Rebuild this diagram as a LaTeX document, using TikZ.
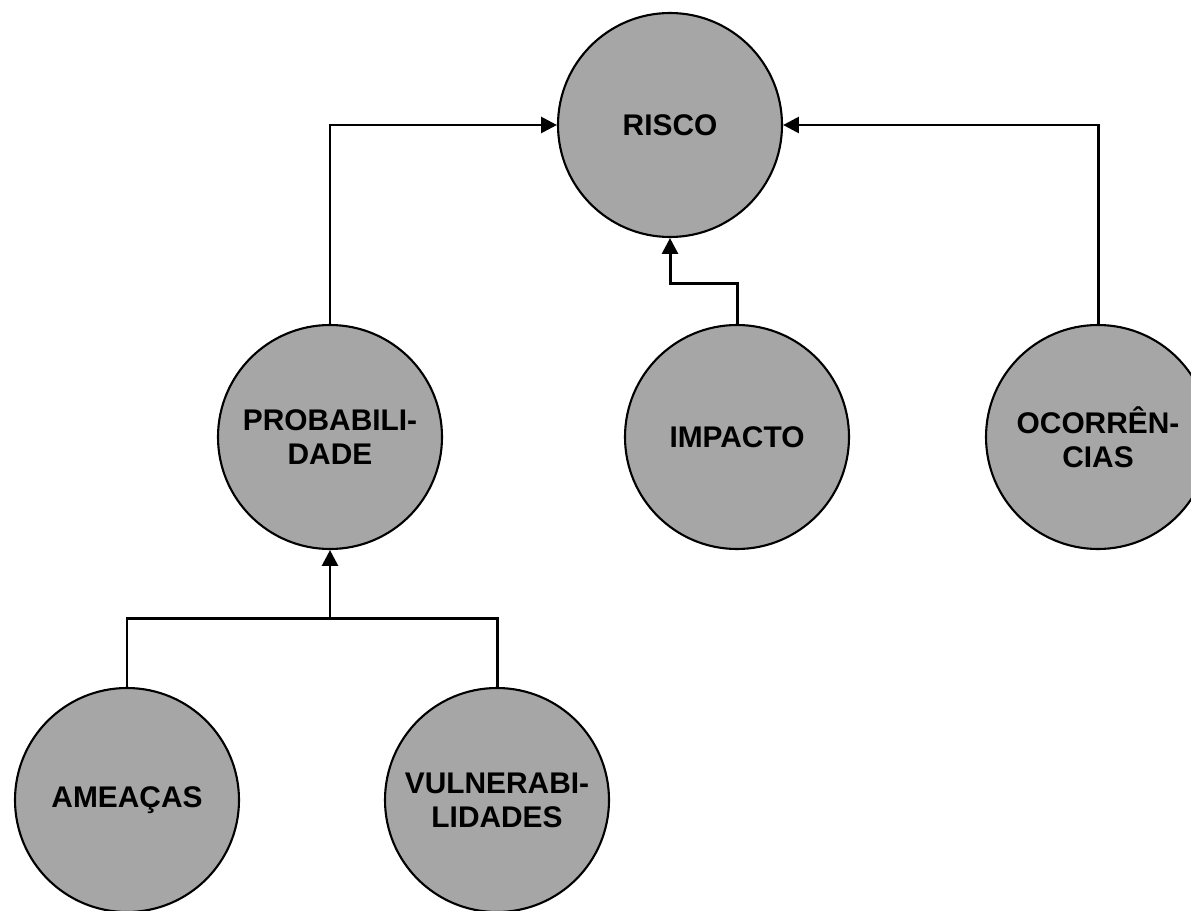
\documentclass[tikz,border=0pt]{standalone}
\usepackage{fontspec}
\setmainfont{Liberation Sans}
\usepackage{tikz}
\usetikzlibrary{positioning,arrows.meta}
\definecolor{RiskGray}{HTML}{A6A6A6}

\begin{document}
\begin{tikzpicture}[>={Triangle[length=9pt,width=9pt]}, on grid,
                      every node/.style={circle, draw=black, line width=1.2pt, fill=RiskGray,
                                         minimum size=4.48cm, inner sep=0pt, align=center,
                                         font=\fontsize{17}{19.5}\selectfont\bfseries},
                      every path/.style={draw=black, line width=1.7pt}]
  \useasboundingbox[draw=none] (0,0) rectangle (23.82,-18.22);
  \node at (13.4,-2.5) (risco) {RISCO};
  \node[below left=6.24cm and 6.8cm of risco] (prob) {PROBABILI-\\DADE};
  \node[right=8.14cm of prob] (impacto) {IMPACTO};
  \node[right=7.22cm of impacto] (ocorr) {OCORRÊN-\\CIAS};
  \node[below left=7.26cm and 4.06cm of prob] (ameacas) {AMEAÇAS};
  \node[right=7.4cm of ameacas] (vulner) {VULNERABI-\\LIDADES};
  \draw[->] (prob.north) |- (risco.west);
  \draw[->] (ocorr.north) |- (risco.east);
  \draw[->] (impacto.north) -- ++(0,0.8) -| (risco.south);
  \draw (ameacas.north) -- ++(0,1.36) coordinate (bar) -| (vulner.north);
  \draw[->] (bar -| prob.south) -- (prob.south);
\end{tikzpicture}
\end{document}
